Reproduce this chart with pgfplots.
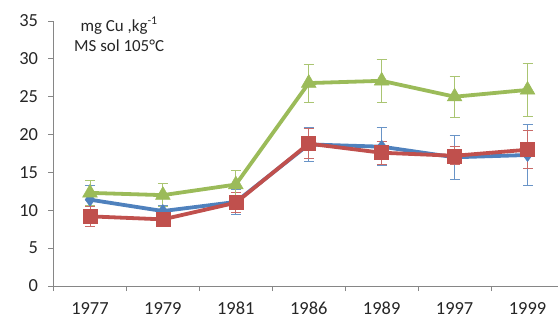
\documentclass[border=0pt]{standalone}
\usepackage{pgfplots}
\pgfplotsset{compat=1.18}
\usepackage{fontspec}
\setmainfont{Carlito}
\definecolor{sblue}{HTML}{4F81BD}
\definecolor{sred}{HTML}{C0504D}
\definecolor{sgreen}{HTML}{9BBB59}
\definecolor{axgray}{HTML}{868686}
\begin{document}
\begin{tikzpicture}
\begin{axis}[
  at={(0,0)}, anchor=south west,
  scale only axis, width=510.5bp, height=265bp,
  xmin=-0.5, xmax=6.5, ymin=0, ymax=35,
  axis x line=bottom, axis y line=left,
  axis line style={-, axgray, line width=0.8pt},
  xtick={0,1,2,3,4,5,6},
  xticklabels={1977,1979,1981,1986,1989,1997,1999},
  major x tick style={draw=none},
  minor xtick={-0.5,0.5,1.5,2.5,3.5,4.5,5.5},
  minor tick length=5bp,
  ytick={0,5,...,35},
  major tick length=5bp,
  tick align=outside,
  tick style={axgray, line width=0.8pt},
  ticklabel style={font=\fontsize{18.5}{20}\selectfont, text=black!85},
  /pgf/number format/assume math mode=true,
  xticklabel style={yshift=-10bp, inner ysep=1bp},
  yticklabel style={xshift=-7bp},
  clip=false,
  every axis plot/.append style={line width=3.8bp},
  error bars/y dir=both, error bars/y explicit,
  error bars/error mark options={rotate=90, mark size=5bp, line width=0.9pt},
  error bars/error bar style={line width=0.9pt},
]
\addplot[sblue, mark=diamond*, mark size=6.5bp, mark options={line width=0.5pt},
  error bars/error bar style={sblue!85!white, line width=0.9pt}]
  coordinates {(0,11.4) +- (0,1.9) (1,9.9) +- (0,0.8) (2,11.1) +- (0,1.6)
  (3,18.7) +- (0,2.2) (4,18.4) +- (0,2.5) (5,17.0) +- (0,2.9) (6,17.3) +- (0,4.0)};
\addplot[sred, mark=square*, mark size=7bp, mark options={line width=0.5pt},
  error bars/error bar style={sred!85!white, line width=0.9pt}]
  coordinates {(0,9.2) +- (0,1.3) (1,8.8) +- (0,0.6) (2,11.0) +- (0,1.3)
  (3,18.8) +- (0,2.0) (4,17.6) +- (0,1.5) (5,17.2) +- (0,1.2) (6,18.0) +- (0,2.5)};
\addplot[sgreen, mark=triangle*, mark size=8.5bp, mark options={line width=0.5pt},
  error bars/error bar style={sgreen!85!white, line width=0.9pt}]
  coordinates {(0,12.3) +- (0,1.6) (1,12.0) +- (0,1.5) (2,13.4) +- (0,1.9)
  (3,26.8) +- (0,2.5) (4,27.1) +- (0,2.8) (5,25.0) +- (0,2.7) (6,25.9) +- (0,3.5)};
\node[align=center, font=\fontsize{17}{21}\selectfont, text=black!85]
  at (axis cs:0.4,33.2) {mg Cu ,kg\textsuperscript{-1}\\MS sol 105°C};
\end{axis}
\pgfresetboundingbox
\path (-53.5bp,-36bp) rectangle (504.5bp,286bp);
\end{tikzpicture}
\end{document}
